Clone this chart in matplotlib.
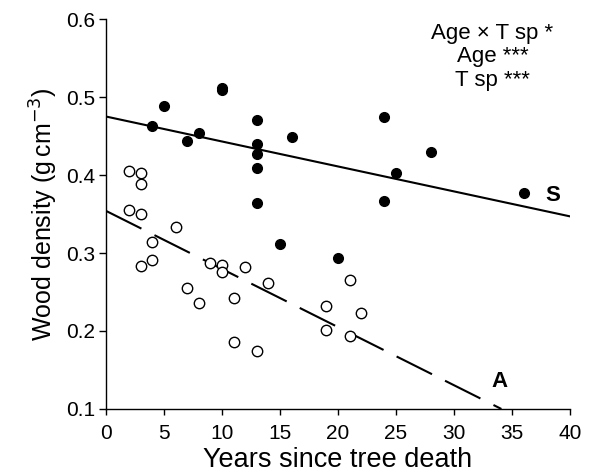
import matplotlib
matplotlib.use("Agg")
import matplotlib.pyplot as plt

plt.rcParams['font.family'] = ['Liberation Sans', 'DejaVu Sans']

# S: filled dots
s_years = [4, 5, 7, 8, 10, 10, 13, 13, 13, 13, 13, 15, 16, 20, 24, 24, 25, 28, 36]
s_density = [0.463, 0.489, 0.444, 0.454, 0.512, 0.509, 0.470, 0.440, 0.427, 0.409,
             0.364, 0.311, 0.449, 0.294, 0.474, 0.367, 0.402, 0.429, 0.377]

# A: open circles
a_years = [2, 3, 3, 2, 3, 6, 4, 3, 4, 9, 10, 10, 12, 7, 8, 11, 14, 11, 13,
           19, 19, 21, 22, 21]
a_density = [0.405, 0.403, 0.388, 0.355, 0.350, 0.333, 0.314, 0.283, 0.291, 0.287,
             0.285, 0.276, 0.282, 0.255, 0.236, 0.242, 0.262, 0.186, 0.174,
             0.232, 0.201, 0.265, 0.223, 0.193]

# fitted lines (intercept, slope)
s_fit = (0.475, -0.0032)
a_fit = (0.354, -0.00745)

fig = plt.figure(figsize=(5.97, 4.76), dpi=100)
ax = fig.add_axes([0.1776, 0.1408, 0.777, 0.8192])

xs = [0, 40]
ax.plot(xs, [s_fit[0] + s_fit[1] * x for x in xs], color='black', lw=1.5, zorder=2)
xa = [0, (0.1 - a_fit[0]) / a_fit[1]]
ax.plot(xa, [a_fit[0] + a_fit[1] * x for x in xa], color='black', lw=1.5,
        dashes=(19, 7), zorder=2)

ax.plot(s_years, s_density, 'o', color='black', ms=7, zorder=3)
ax.plot(a_years, a_density, 'o', mfc='white', mec='black', mew=1, ms=7.5, zorder=3)

ax.text(38.5, 0.374, 'S', fontsize=16, fontweight='bold', ha='center', va='center')
ax.text(33.9, 0.135, 'A', fontsize=16, fontweight='bold', ha='center', va='center')

ax.text(0.833, 0.99, 'Age \u00d7 T sp *\nAge ***\nT sp ***', transform=ax.transAxes,
        ha='center', va='top', fontsize=16, linespacing=1.15)

ax.set_xlim(0, 40)
ax.set_ylim(0.1, 0.6)
ax.set_xticks(range(0, 41, 5))
ax.set_yticks([0.1, 0.2, 0.3, 0.4, 0.5, 0.6])
ax.set_yticklabels(['0.1', '0.2', '0.3', '0.4', '0.5', '0.6'])
ax.tick_params(labelsize=15, direction='out', width=1)
ax.tick_params(axis='y', length=5, pad=3)
ax.tick_params(axis='x', length=4, pad=7)
for side in ['top', 'right']:
    ax.spines[side].set_visible(False)
for side in ['left', 'bottom']:
    ax.spines[side].set_linewidth(1)

ax.set_xlabel('Years since tree death', fontsize=19.5, labelpad=3)
ax.set_ylabel('Wood density (g$\\,$cm$^{-3}$)', fontsize=18, labelpad=4)

fig.savefig('out.png', dpi=100)
